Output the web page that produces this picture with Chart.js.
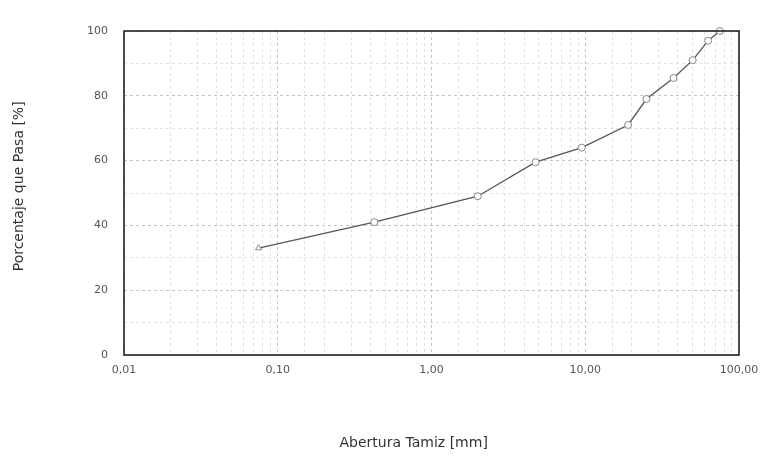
<!DOCTYPE html>
<html lang="es">
<head>
<meta charset="UTF-8" />
<title>Curva granulométrica</title>
<script src="https://cdn.jsdelivr.net/npm/chart.js@4"></script>
<style>
  body { margin: 0; background: #fff; }
  #wrap { width: 771px; height: 461px; }
</style>
</head>
<body>
<div id="wrap"><canvas id="myChart" width="771" height="461"></canvas></div>
<script>
// abertura de tamiz [mm] y porcentaje que pasa [%]
const aberturas = [0.075, 0.425, 2.0, 4.75, 9.5, 19.0, 25.0, 37.5, 50.0, 63.0, 75.0];
const pasa = [33, 41, 49, 59.5, 64, 71, 79, 85.5, 91, 97, 100];
const xTicks = { 0.01: '0,01', 0.1: '0,10', 1: '1,00', 10: '10,00', 100: '100,00' };

const isDecade = v => Math.abs(Math.log10(v) - Math.round(Math.log10(v))) < 1e-6;

// marco completo alrededor del área del gráfico
const frame = {
  id: 'frame',
  afterDraw(chart) {
    const a = chart.chartArea, c = chart.ctx;
    c.save();
    c.strokeStyle = '#222';
    c.lineWidth = 1.6;
    c.strokeRect(a.left, a.top, a.right - a.left, a.bottom - a.top);
    c.restore();
  }
};

const titleFont = { family: 'DejaVu Sans', size: 14 };
const tickFont = { family: 'DejaVu Sans', size: 11 };

const ctx = document.getElementById('myChart').getContext('2d');
new Chart(ctx, {
  type: 'line',
  data: {
    datasets: [{
      data: aberturas.map((x, i) => ({ x: x, y: pasa[i] })),
      borderColor: '#555',
      borderWidth: 1.3,
      pointStyle: aberturas.map((x, i) => i === 0 ? 'triangle' : 'circle'),
      pointRadius: 3.5,
      pointBorderColor: '#888',
      pointBackgroundColor: '#fff',
      pointBorderWidth: 1,
      tension: 0,
      clip: false
    }]
  },
  options: {
    responsive: false,
    animation: false,
    layout: { padding: { top: 31, right: 32, left: 11, bottom: 0 } },
    plugins: { legend: { display: false }, tooltip: { enabled: false } },
    scales: {
      x: {
        type: 'logarithmic',
        min: 0.01,
        max: 100,
        afterFit(s) { s.height = 106; },
        border: { display: false, dash: [3, 3] },
        grid: {
          drawTicks: false,
          color: c => isDecade(c.tick.value) ? '#c4c4c4' : '#e2e2e2',
          lineWidth: 1
        },
        ticks: {
          autoSkip: false,
          maxRotation: 0,
          padding: 9,
          color: '#555',
          font: tickFont,
          callback: v => isDecade(v) ? (xTicks[Number(v.toPrecision(3))] || '') : ''
        },
        title: {
          display: true,
          text: 'Abertura Tamiz [mm]        ',
          color: '#333',
          font: titleFont,
          padding: { top: 0, bottom: 9 }
        }
      },
      y: {
        min: 0,
        max: 100,
        afterFit(s) { s.width = 113; },
        border: { display: false, dash: [3, 3] },
        grid: {
          drawTicks: false,
          color: c => c.tick.value % 20 === 0 ? '#c4c4c4' : '#e2e2e2'
        },
        ticks: {
          stepSize: 10,
          padding: 16,
          color: '#555',
          font: tickFont,
          callback: v => v % 20 === 0 ? v : ''
        },
        title: {
          display: true,
          text: '   Porcentaje que Pasa [%]',
          color: '#333',
          font: titleFont,
          padding: { top: 0, bottom: 0 }
        }
      }
    }
  },
  plugins: [frame]
});
</script>
</body>
</html>
